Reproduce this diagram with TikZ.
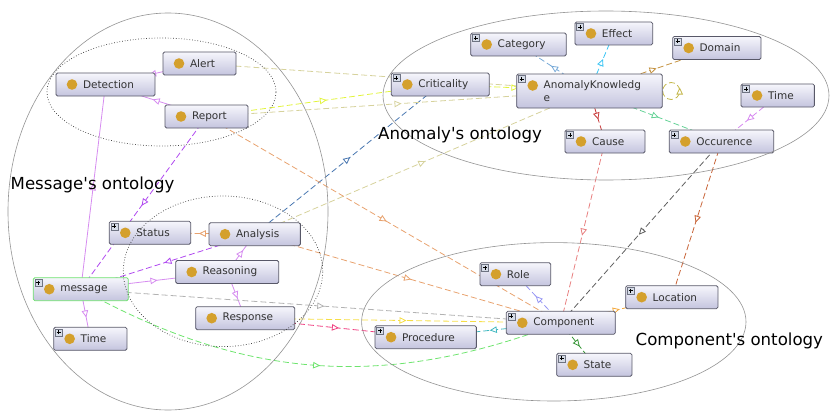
\documentclass[tikz,border=0pt]{standalone}
\usepackage{fontspec}
\setmainfont{DejaVu Sans}
\usetikzlibrary{arrows.meta,decorations.markings}

\definecolor{boxedge}{RGB}{88,88,104}
\definecolor{boxtop}{RGB}{246,246,252}
\definecolor{boxbot}{RGB}{196,196,222}
\definecolor{dotgold}{RGB}{212,160,44}
\definecolor{plusfill}{RGB}{214,220,232}
\definecolor{plusedge}{RGB}{110,115,130}
\definecolor{msggreen}{RGB}{110,226,110}
\definecolor{isac}{RGB}{214,140,240}
\definecolor{purplec}{RGB}{176,72,240}
\definecolor{peachc}{RGB}{232,162,110}
\definecolor{steelc}{RGB}{72,118,176}
\definecolor{khakic}{RGB}{214,210,156}
\definecolor{lemonc}{RGB}{226,244,60}
\definecolor{categoryc}{RGB}{120,170,216}
\definecolor{effectc}{RGB}{56,196,244}
\definecolor{domainc}{RGB}{196,146,64}
\definecolor{causec}{RGB}{200,56,56}
\definecolor{occurc}{RGB}{100,210,150}
\definecolor{timec}{RGB}{214,136,240}
\definecolor{loopc}{RGB}{196,184,76}
\definecolor{salmonc}{RGB}{232,128,128}
\definecolor{slatec}{RGB}{96,96,96}
\definecolor{rustc}{RGB}{200,100,56}
\definecolor{rolec}{RGB}{150,150,244}
\definecolor{amberc}{RGB}{244,168,60}
\definecolor{statec}{RGB}{56,150,56}
\definecolor{procc}{RGB}{64,184,192}
\definecolor{silverc}{RGB}{178,178,178}
\definecolor{goldc}{RGB}{246,222,70}
\definecolor{rosec}{RGB}{240,64,130}
\definecolor{limec}{RGB}{110,228,110}

\pgfdeclarelayer{edges}
\pgfdeclarelayer{rings}
\pgfsetlayers{edges,main,rings}

\newcommand{\golddot}{\fill[dotgold] ([xshift=16pt,yshift=-11.5pt]path picture bounding box.north west) circle[radius=5.3pt];}
\newcommand{\plusmark}{%
  \draw[plusedge,fill=plusfill,line width=0.5pt,sharp corners] ([xshift=1.5pt,yshift=-1.5pt]path picture bounding box.north west) rectangle ++(7pt,-7pt);
  \draw[black,line width=0.7pt] ([xshift=3pt,yshift=-5pt]path picture bounding box.north west) -- ++(4pt,0pt)
    ([xshift=5pt,yshift=-3pt]path picture bounding box.north west) -- ++(0pt,-4pt);}

\tikzset{
  tri/.tip={Triangle[open,fill=white,length=7pt,width=6.5pt]},
  cls/.style={draw=boxedge, line width=0.8pt, rounded corners=1.5pt, top color=boxtop, bottom color=boxbot,
    font=\fontsize{10.5}{13}\selectfont, text=black!80, inner xsep=2pt, inner ysep=0pt,
    minimum height=23pt, minimum width=#1pt, text width=#1pt-4pt,
    execute at begin node={\leftskip=25pt\relax}, path picture={\golddot}},
  clsp/.style={cls=#1, path picture={\golddot\plusmark}},
  rel/.style={draw=#1, line width=0.8pt, dash pattern=on 6pt off 3pt,
    postaction={decorate, decoration={markings, mark=at position 0.5 with {\arrow[xshift=3.5pt]{tri}}}}},
  isa/.style={rel=isac, solid},
  ring/.style={draw=gray!85, line width=0.6pt},
  part/.style={draw=black!80, dotted, line width=0.7pt},
  onto/.style={font=\fontsize{16.6}{20}\selectfont, anchor=base west, inner sep=0pt}
}

\begin{document}
\begin{tikzpicture}[x=1pt,y=-1pt]
  \useasboundingbox (0,0) rectangle (830,412);

  % message side
  \node[cls=73] (alert) at (199.5,63.5) {Alert};
  \node[cls=99] (detection) at (105.5,84.5) {Detection};
  \node[cls=83] (report) at (206.5,116.5) {Report};
  \node[clsp=81.4] (status) at (150,232.8) {Status};
  \node[cls=91.3] (analysis) at (254.7,234.2) {Analysis};
  \node[cls=103] (reasoning) at (227.2,272) {Reasoning};
  \node[clsp=95, draw=msggreen] (message) at (80.8,289.2) {message};
  \node[cls=99] (response) at (245.2,318.2) {Response};
  \node[clsp=73.3] (timem) at (90.3,338.8) {Time};

  % anomaly side
  \node[clsp=95.6] (category) at (518.5,44.5) {Category};
  \node[clsp=77.7] (effect) at (613.8,33.5) {Effect};
  \node[clsp=88.3] (domain) at (716.8,48) {Domain};
  \node[clsp=98] (criticality) at (440.3,84.5) {Criticality};
  \node[clsp=145.6, minimum height=34pt] (ak) at (589.5,91) {AnomalyKnowledg\\e};
  \node[clsp=73.3] (timea) at (777.7,95.5) {Time};
  \node[clsp=80] (cause) at (605,141.5) {Cause};
  \node[clsp=104.4] (occurence) at (721.5,141.5) {Occurence};

  % component side
  \node[clsp=70.7] (role) at (515.3,274.2) {Role};
  \node[clsp=92.3] (location) at (671.8,297.2) {Location};
  \node[clsp=109] (component) at (560.8,322.8) {Component};
  \node[clsp=101.3] (procedure) at (425.7,337.2) {Procedure};
  \node[clsp=75.3] (state) at (594.3,364.8) {State};

  \begin{pgfonlayer}{edges}
    \draw[isa] (message.center) -- (detection.center);
    \draw[isa] (alert.center) -- (detection.center);
    \draw[isa] (report.center) -- (detection.center);
    \draw[isa] (message.center) -- (reasoning.center);
    \draw[isa] (reasoning.center) -- (analysis.center);
    \draw[isa] (reasoning.center) -- (response.center);
    \draw[isa] (message.center) -- (timem.center);
    \draw[rel=purplec] (report.center) -- (message.center);
    \draw[rel=purplec] (analysis.center) -- (message.center);
    \draw[rel=peachc] (analysis.center) -- (status.center);
    \draw[rel=steelc] (analysis.center) -- (criticality.center);
    \draw[rel=khakic] (analysis.center) -- (ak.center);
    \draw[rel=peachc] (analysis.center) -- (component.center);
    \draw[rel=peachc] (report.center) -- (component.center);
    \draw[rel=khakic] (alert.center) -- (ak.center);
    \draw[rel=lemonc] (report.center) -- (criticality.center);
    \draw[rel=khakic] (report.center) -- (ak.center);
    \draw[rel=lemonc] (criticality.center) -- (ak.center);
    \draw[rel=categoryc] (ak.center) -- (category.center);
    \draw[rel=effectc] (ak.center) -- (effect.center);
    \draw[rel=domainc] (ak.center) -- (domain.center);
    \draw[rel=causec] (ak.center) -- (cause.center);
    \draw[rel=occurc] (ak.center) -- (occurence.center);
    \draw[rel=timec] (timea.center) -- (occurence.center);
    \draw[rel=loopc] (ak.east) arc[start angle=180, delta angle=360, radius=8.5pt];
    \draw[rel=salmonc] (cause.center) -- (component.center);
    \draw[rel=slatec] (occurence.center) -- (component.center);
    \draw[rel=rustc] (occurence.center) -- (location.center);
    \draw[rel=rolec] (component.center) -- (role.center);
    \draw[rel=amberc] (component.center) -- (location.center);
    \draw[rel=statec] (component.center) -- (state.center);
    \draw[rel=procc] (component.center) -- (procedure.center);
    \draw[rel=silverc] (message.center) -- (component.center);
    \draw[rel=goldc] (response.center) -- (component.center);
    \draw[rel=rosec] (response.center) -- (procedure.center);
    \draw[rel=limec] (message.center) to[bend right=25] (component.center);
  \end{pgfonlayer}

  \begin{pgfonlayer}{rings}
    \draw[ring] (168,211.5) ellipse[x radius=160pt, y radius=198.5pt];
    \draw[ring] (606,95.5) ellipse[x radius=223pt, y radius=84.5pt];
    \draw[ring] (553.8,321.8) ellipse[x radius=192.2pt, y radius=79.2pt];
    \draw[part] (161.5,92) ellipse[x radius=114.5pt, y radius=54pt];
    \draw[part] (223,271.3) ellipse[x radius=99.7pt, y radius=75.3pt];
    \node[onto] (msgonto) at (10.5,189) {Message\textquotesingle s ontology};
    \node[onto] (anoonto) at (378,139.5) {Anomaly\textquotesingle s ontology};
    \node[onto] (componto) at (635.5,345.5) {Component\textquotesingle s ontology};
  \end{pgfonlayer}
\end{tikzpicture}
\end{document}
